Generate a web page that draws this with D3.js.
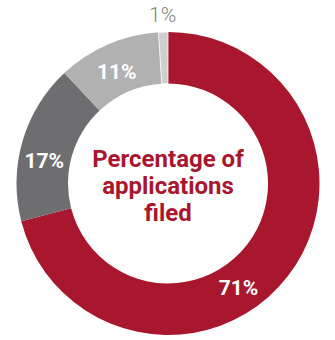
<!DOCTYPE html>
<html><head><meta charset="utf-8">
<script src="https://cdn.jsdelivr.net/npm/d3@7"></script>
<style>html,body{margin:0;padding:0;background:#fff;}svg{display:block;}</style>
</head><body>
<script>
const categories = ["A", "B", "C", "D"];
const values = [71, 17, 11, 1];
const labels = ["71%", "17%", "11%", "1%"];
const colors = ["#A8172D", "#6E6D6F", "#B1B1B1", "#CFCFCF"];
const centerLines = ["Percentage of", "applications", "filed"];

const W = 335, H = 340, cx = 168, cy = 183.5, rOuter = 151.5, rInner = 100;
const svg = d3.select("body").append("svg").attr("width", W).attr("height", H);
const g = svg.append("g").attr("transform", `translate(${cx},${cy})`);

const pie = d3.pie().sort(null).value(d => d)(values);
const arc = d3.arc().innerRadius(rInner).outerRadius(rOuter);

g.selectAll("path.slice").data(pie).join("path")
  .attr("class", "slice")
  .attr("d", arc)
  .attr("fill", (d, i) => colors[i])
  .attr("stroke", (d, i) => i === 3 ? "#fff" : "none")
  .attr("stroke-width", 0.8);

// label position fraction within each slice
const frac = [0.571, 0.41, 0.47, 0.5];
const labelR = [126, 126, 123, 169];
g.selectAll("text.lbl").data(pie).join("text")
  .attr("class", "lbl")
  .attr("x", (d, i) => { const a = d.startAngle + (d.endAngle - d.startAngle) * frac[i]; return labelR[i] * Math.sin(a); })
  .attr("y", (d, i) => { const a = d.startAngle + (d.endAngle - d.startAngle) * frac[i]; return -labelR[i] * Math.cos(a); })
  .attr("dy", "0.36em")
  .attr("text-anchor", "middle")
  .attr("font-family", "Roboto, 'DejaVu Sans', sans-serif")
  .attr("font-weight", (d, i) => i === 3 ? 300 : 700)
  .attr("font-size", (d, i) => i === 3 ? 21 : 21)
  .attr("fill", (d, i) => i === 3 ? "#808080" : "#fff")
  .text((d, i) => labels[i]);

g.selectAll("text.center").data(centerLines).join("text")
  .attr("class", "center")
  .attr("x", 0)
  .attr("y", (d, i) => -16.5 + i * 27)
  .attr("text-anchor", "middle")
  .attr("font-family", "Roboto, 'DejaVu Sans', sans-serif")
  .attr("font-weight", 700)
  .attr("font-size", 24)
  .attr("fill", "#A8172D")
  .text(d => d);
</script>
</body></html>
